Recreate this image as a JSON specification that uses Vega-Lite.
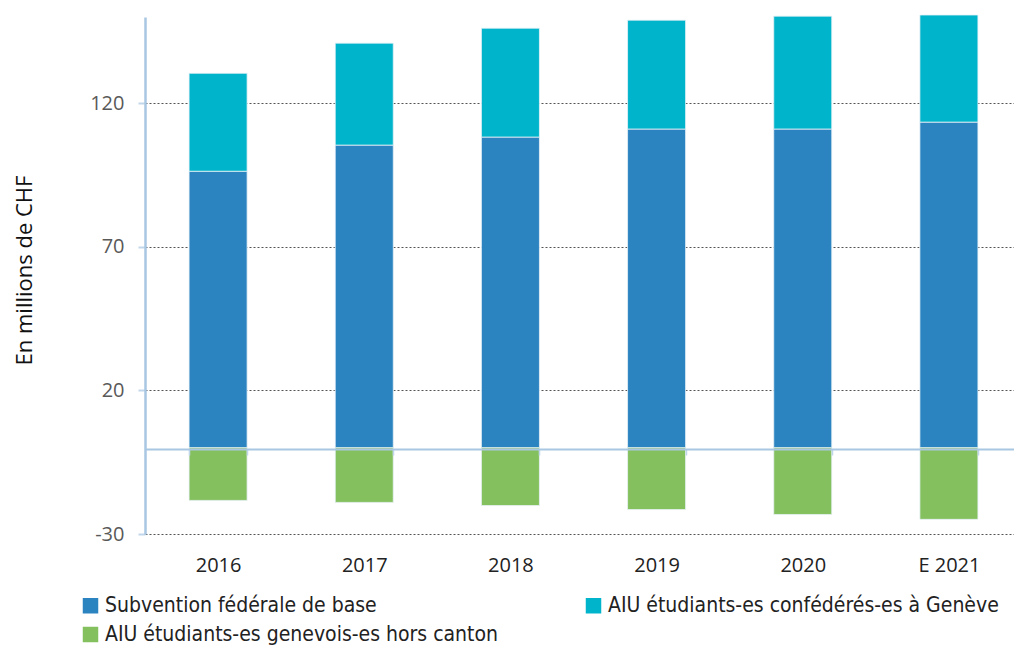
{
  "$schema": "https://vega.github.io/schema/vega-lite/v6.json",
  "width": 877,
  "height": 517,
  "autosize": "none",
  "padding": {"left": 145, "top": 17, "right": 0, "bottom": 112},
  "config": {"view": {"stroke": null}, "font": "Open Sans"},
  "data": {"values": [
    {"year": "2016", "serie": "Subvention fédérale de base", "ord": 1, "value": 96.3},
    {"year": "2016", "serie": "AIU étudiants-es confédérés-es à Genève", "ord": 2, "value": 34.1},
    {"year": "2016", "serie": "AIU étudiants-es genevois-es hors canton", "ord": 3, "value": -18.3},
    {"year": "2017", "serie": "Subvention fédérale de base", "ord": 1, "value": 105.4},
    {"year": "2017", "serie": "AIU étudiants-es confédérés-es à Genève", "ord": 2, "value": 35.5},
    {"year": "2017", "serie": "AIU étudiants-es genevois-es hors canton", "ord": 3, "value": -19.0},
    {"year": "2018", "serie": "Subvention fédérale de base", "ord": 1, "value": 108.2},
    {"year": "2018", "serie": "AIU étudiants-es confédérés-es à Genève", "ord": 2, "value": 37.9},
    {"year": "2018", "serie": "AIU étudiants-es genevois-es hors canton", "ord": 3, "value": -20.1},
    {"year": "2019", "serie": "Subvention fédérale de base", "ord": 1, "value": 111.0},
    {"year": "2019", "serie": "AIU étudiants-es confédérés-es à Genève", "ord": 2, "value": 37.9},
    {"year": "2019", "serie": "AIU étudiants-es genevois-es hors canton", "ord": 3, "value": -21.5},
    {"year": "2020", "serie": "Subvention fédérale de base", "ord": 1, "value": 111.0},
    {"year": "2020", "serie": "AIU étudiants-es confédérés-es à Genève", "ord": 2, "value": 39.3},
    {"year": "2020", "serie": "AIU étudiants-es genevois-es hors canton", "ord": 3, "value": -23.2},
    {"year": "E 2021", "serie": "Subvention fédérale de base", "ord": 1, "value": 113.4},
    {"year": "E 2021", "serie": "AIU étudiants-es confédérés-es à Genève", "ord": 2, "value": 37.3},
    {"year": "E 2021", "serie": "AIU étudiants-es genevois-es hors canton", "ord": 3, "value": -24.9}
  ]},
  "mark": {"type": "bar", "stroke": "#e8f1f8", "strokeWidth": 0.8},
  "encoding": {
    "x": {
      "field": "year", "type": "nominal", "sort": null,
      "scale": {"paddingInner": 0.603, "paddingOuter": 0.3015},
      "axis": {
        "title": null, "orient": "bottom", "offset": -85, "zindex": 1,
        "domainColor": "#a9c7e2", "domainWidth": 2,
        "tickBand": "extent", "tickColor": "#c0d6ea", "tickSize": 6, "tickWidth": 1.5,
        "labelAngle": 0, "labelPadding": 100, "labelFontSize": 20, "labelColor": "#222222"
      }
    },
    "y": {
      "field": "value", "type": "quantitative", "stack": "zero",
      "scale": {"domain": [-30, 150], "nice": false, "zero": true},
      "axis": {
        "values": [-30, 20, 70, 120],
        "labelExpr": "replace(datum.label, '\u2212', '-')",
        "domainColor": "#a9c7e2", "domainWidth": 2.5,
        "tickColor": "#c0d6ea", "tickSize": 7, "tickWidth": 2,
        "labelFontSize": 20, "labelColor": "#595959", "labelPadding": 14,
        "gridColor": "#555555", "gridDash": [2, 2], "gridWidth": 1,
        "title": "En millions de CHF", "titleFontSize": 22, "titleFontWeight": "normal",
        "titleColor": "#111111", "titleX": -121, "titleY": 253, "titleAngle": 270,
        "titleAlign": "center", "titleBaseline": "middle"
      }
    },
    "color": {
      "field": "serie", "type": "nominal",
      "scale": {
        "domain": ["Subvention fédérale de base", "AIU étudiants-es confédérés-es à Genève", "AIU étudiants-es genevois-es hors canton"],
        "range": ["#2b83c0", "#00b5cb", "#85c05f"]
      },
      "legend": {
        "title": null, "orient": "none", "legendX": -65, "legendY": 578,
        "direction": "horizontal",
        "columns": 2, "columnPadding": 84, "rowPadding": 7,
        "symbolType": "square", "symbolSize": 240, "symbolStrokeWidth": 0, "symbolOpacity": 1,
        "labelFont": "DejaVu Sans Condensed, Roboto, sans-serif", "labelFontSize": 21, "labelColor": "#222222",
        "labelOffset": 4, "labelLimit": 600
      }
    },
    "order": {"field": "ord"}
  }
}
